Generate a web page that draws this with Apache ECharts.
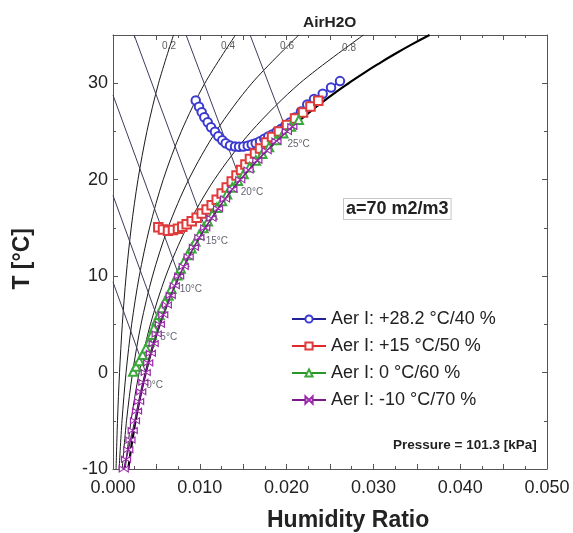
<!DOCTYPE html>
<html><head><meta charset="utf-8">
<script src="https://cdn.jsdelivr.net/npm/echarts@6/dist/echarts.min.js"></script>
<style>html,body{margin:0;padding:0;background:#fff}#c{width:573px;height:533px}</style>
</head><body><div id="c"></div>
<script>
// Saturation curve (RH = 1.0)
const satT = [-10,-9,-8,-7,-6,-5,-4,-3,-2,-1,0,1,2,3,4,5,6,7,8,9,10,11,12,13,14,15,16,17,18,19,20,21,22,23,24,25,26,27,28,29,30,31,32,33,34,35];
const satW = [0.001766,0.001910,0.002065,0.002231,0.002410,0.002600,0.002804,0.003022,0.003256,0.003505,0.003773,0.004056,0.004361,0.004684,0.005030,0.005396,0.005788,0.006203,0.006648,0.007118,0.007621,0.008151,0.008717,0.009314,0.009952,0.010626,0.011345,0.012100,0.012906,0.013756,0.014662,0.015616,0.016632,0.017699,0.018834,0.020034,0.021310,0.022644,0.024062,0.025558,0.027147,0.028806,0.030566,0.032415,0.034375,0.036466];
// Relative humidity curves
const rhT = [-10,-5,0,5,10,15,20,25,30,35];
const rh20 = [0.000352,0.000518,0.000751,0.001072,0.001509,0.002097,0.002877,0.003906,0.005246,0.006971];
const rh40 = [0.000705,0.001038,0.001504,0.002148,0.003026,0.004208,0.005782,0.007863,0.010581,0.014110];
const rh60 = [0.001058,0.001557,0.002259,0.003227,0.004549,0.006331,0.008714,0.011867,0.015998,0.021401];
const rh80 = [0.001412,0.002079,0.003015,0.004311,0.006081,0.008472,0.011674,0.015924,0.021524,0.028862];
const rhNames = ['0.2','0.4','0.6','0.8'];
const rhLabelW = [0.00645,0.01325,0.02005,0.02719];
const rhLabelT = [33.8,33.8,33.8,33.6];
// Wet-bulb lines: start on saturation, end at edge
const wbNames = ['0°C','5°C','10°C','15°C','20°C','25°C'];
const wbStartW = [0.003773,0.005396,0.007621,0.010626,0.014662,0.020034];
const wbStartT = [0,5,10,15,20,25];
const wbEndW = [0,0,0,0.002432,0.008418,0.015796];
const wbEndT = [9.38,18.36,28.77,35,35,35];
// Measured series
const blueW = [0.00953,0.00991,0.01022,0.01052,0.01091,0.01129,0.01175,0.01213,0.01259,0.01298,0.01348,0.01406,0.01452,0.01501,0.01552,0.01598,0.01644,0.01694,0.01743,0.01789,0.01835,0.01886,0.01935,0.01982,0.02039,0.02097,0.02166,0.02238,0.02316,0.02416,0.02512,0.02615];
const blueT = [28.21,27.56,27.00,26.48,25.96,25.44,24.96,24.51,24.09,23.78,23.54,23.44,23.41,23.44,23.51,23.64,23.78,23.99,24.24,24.48,24.68,24.99,25.25,25.57,25.93,26.45,27.07,27.80,28.37,28.91,29.56,30.22];
const redW = [0.00522,0.00576,0.00634,0.00691,0.00749,0.00798,0.00849,0.00907,0.00964,0.01022,0.01079,0.01137,0.01195,0.01252,0.01310,0.01368,0.01423,0.01475,0.01526,0.01578,0.01636,0.01694,0.01763,0.01832,0.01912,0.02005,0.02097,0.02189,0.02275,0.02365];
const redT = [15.06,14.82,14.71,14.77,14.92,15.13,15.39,15.70,16.06,16.48,16.90,17.36,17.93,18.56,19.18,19.80,20.43,21.00,21.57,22.14,22.71,23.23,23.85,24.42,25.00,25.67,26.34,26.96,27.59,28.18];
const greenW = [0.00234,0.00265,0.00303,0.00342,0.00380,0.00418,0.00446,0.00472,0.00503,0.00533,0.00561,0.00599,0.00638,0.00672,0.00706,0.00742,0.00780,0.00819,0.00860,0.00903,0.00948,0.00994,0.01042,0.01092,0.01144,0.01198,0.01255,0.01313,0.01374,0.01438,0.01504,0.01573,0.01645,0.01719,0.01797,0.01878,0.01962,0.02049,0.02140];
const greenT = [0.1,0.62,1.21,1.84,2.53,3.22,3.91,4.61,5.40,5.99,6.69,7.37,8.0,8.7,9.4,10.1,10.8,11.5,12.2,12.9,13.6,14.3,15.0,15.7,16.4,17.1,17.8,18.5,19.2,19.9,20.6,21.3,22.0,22.7,23.4,24.1,24.8,25.5,26.2];
const purpleW = [0.00124,0.00150,0.00176,0.00201,0.00227,0.00253,0.00277,0.00301,0.00325,0.00350,0.00377,0.004056,0.004361,0.004684,0.005030,0.005396,0.005788,0.006203,0.006648,0.007118,0.007621,0.008151,0.008717,0.009314,0.009952,0.010626,0.011345,0.012100,0.012906,0.013756,0.014662,0.015616,0.016632,0.017699,0.018834,0.020034,0.02066];
const purpleT = [-10,-9,-8,-7,-6,-5,-4,-3,-2,-1,0,1,2,3,4,5,6,7,8,9,10,11,12,13,14,15,16,17,18,19,20,21,22,23,24,25,25.5];
const seriesNames = ['Aer I: +28.2 °C/40 %','Aer I: +15 °C/50 %','Aer I: 0 °C/60 %','Aer I: -10 °C/70 %'];

const FONT = 'Liberation Sans, Arial, sans-serif';
const zip = (xs, ys) => xs.map((x, i) => [x, ys[i]]);

const chart = echarts.init(document.getElementById('c'), null, {renderer: 'canvas'});
const series = [];
[rh20, rh40, rh60, rh80].forEach(arr => {
  series.push({type: 'line', data: zip(arr, rhT), smooth: 0.3, symbol: 'none', silent: true,
    lineStyle: {color: '#1a1a1a', width: 1}, z: 1});
});
wbNames.forEach((n, i) => {
  series.push({type: 'line', data: [[wbStartW[i], wbStartT[i]], [wbEndW[i], wbEndT[i]]], symbol: 'none', silent: true,
    lineStyle: {color: '#3d3d5c', width: 1}, z: 1});
});
series.push({type: 'line', data: zip(satW, satT), symbol: 'none', smooth: true, silent: true,
  lineStyle: {color: '#000', width: 2.2}, z: 2});
series.push({type: 'scatter', data: rhNames.map((n, i) => [rhLabelW[i], rhLabelT[i], n]), symbolSize: 1,
  itemStyle: {color: 'rgba(0,0,0,0)'}, silent: true, z: 3,
  label: {show: true, position: 'inside', formatter: p => p.value[2], fontSize: 10, color: '#333', fontFamily: FONT}});
series.push({type: 'scatter', data: wbNames.map((n, i) => [wbStartW[i], wbStartT[i], n]), symbolSize: 1,
  itemStyle: {color: 'rgba(0,0,0,0)'}, silent: true, z: 3,
  label: {show: true, position: 'right', distance: 0, offset: [0, 13], formatter: p => p.value[2], fontSize: 10, color: '#3a3a4a', fontFamily: FONT}});

const meas = [
  {w: blueW, t: blueT, line: '#22229a', mk: '#3a3ad0', sym: 'emptyCircle', size: 8.5},
  {w: redW, t: redT, line: '#e02a2a', mk: '#e03a3a', sym: 'emptyRect', size: 8.5},
  {w: greenW, t: greenT, line: '#2a962a', mk: '#3aa83a', sym: 'emptyTriangle', size: 8.5},
  {w: purpleW, t: purpleT, line: '#7a1a8c', mk: '#9a2aaa', sym: 'path://M0,0L10,5L0,10ZM20,0L10,5L20,10Z', size: [9, 6]}
];
meas.forEach((m, i) => {
  const isPath = m.sym.startsWith('path');
  series.push({type: 'line', name: seriesNames[i], data: zip(m.w, m.t), symbol: m.sym, symbolSize: m.size,
    showSymbol: true, showAllSymbol: true,
    lineStyle: {color: m.line, width: 1.5},
    itemStyle: isPath ? {color: '#fff', borderColor: m.mk, borderWidth: 1} : {color: m.mk, borderWidth: 1},
    z: 5 + i});
});

const xCommon = {type: 'value', min: 0, max: 0.05, interval: 0.005,
  splitLine: {show: false},
  axisLine: {show: true, onZero: false, lineStyle: {color: '#555', width: 1}},
  axisTick: {show: true, inside: true, length: 5, lineStyle: {color: '#555'}},
  minorTick: {show: true, splitNumber: 2, length: 3, lineStyle: {color: '#555'}}};
const yCommon = {type: 'value', min: -10, max: 35, interval: 10,
  splitLine: {show: false},
  axisLine: {show: true, onZero: false, lineStyle: {color: '#555', width: 1}},
  axisTick: {show: true, inside: true, length: 5, lineStyle: {color: '#555'}},
  minorTick: {show: true, splitNumber: 2, length: 3, lineStyle: {color: '#555'}}};

chart.setOption({
  animation: false,
  backgroundColor: '#fff',
  grid: {left: 113, right: 26, top: 35, bottom: 64, containLabel: false},
  xAxis: [
    Object.assign({}, xCommon, {position: 'bottom',
      axisLabel: {show: true, fontSize: 18, color: '#222', fontFamily: FONT, margin: 10,
        formatter: v => (Math.round(v * 1000) % 10 === 0 ? v.toFixed(3) : '')}}),
    Object.assign({}, xCommon, {position: 'top', axisLabel: {show: false}})
  ],
  yAxis: [
    Object.assign({}, yCommon, {position: 'left',
      axisLabel: {show: true, fontSize: 18, color: '#222', fontFamily: FONT, margin: 5,
        formatter: v => (Math.round(v) % 10 === 0 ? String(v) : '')}}),
    Object.assign({}, yCommon, {position: 'right', axisLabel: {show: false}})
  ],
  legend: {orient: 'vertical', left: 286, top: 305, itemWidth: 34, itemHeight: 9, itemGap: 9,
    data: seriesNames, textStyle: {fontSize: 18, color: '#222', fontFamily: FONT}, selectedMode: false},
  series: series,
  graphic: [
    {type: 'text', left: 303, top: 15, style: {text: 'AirH2O', font: 'bold 15.5px ' + FONT, fill: '#222'}},
    {type: 'text', left: 267, top: 509, style: {text: 'Humidity Ratio', font: 'bold 23px ' + FONT, fill: '#222'}},
    {type: 'text', left: 11, top: 228, rotation: Math.PI / 2, style: {text: 'T [°C]', font: 'bold 23px ' + FONT, fill: '#222'}},
    {type: 'text', left: 343, top: 198, style: {text: 'a=70 m2/m3', font: 'bold 18px ' + FONT, fill: '#222',
      backgroundColor: '#fff', borderColor: '#c8c8c8', borderWidth: 1, padding: [1, 2]}},
    {type: 'text', left: 393, top: 438, style: {text: 'Pressure = 101.3 [kPa]', font: 'bold 13.5px ' + FONT, fill: '#222'}}
  ]
});
</script></body></html>
